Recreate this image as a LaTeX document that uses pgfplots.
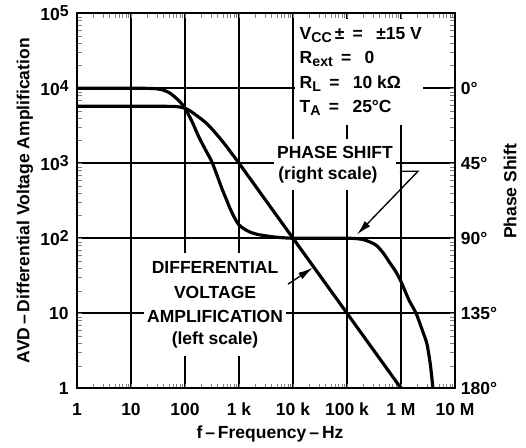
\documentclass[border=0pt]{standalone}
\usepackage{pgfplots}
\pgfplotsset{compat=1.18}
\usepackage{fontspec}
\setmainfont{Liberation Sans}
\usetikzlibrary{arrows.meta}
\newcommand{\fnt}{\fontsize{10.5}{12.5}\selectfont\bfseries}
\newcommand{\sups}[1]{\raisebox{2.6pt}{\fontsize{9.5}{9.5}\selectfont #1}}
\newcommand{\subs}[1]{\raisebox{-2pt}{\fontsize{8.5}{8.5}\selectfont #1}}
\newcommand{\eq}{\hspace{5pt}=\hspace{8pt}}
\begin{document}
\begin{tikzpicture}[font=\fnt]
\path (-46.2pt,-34.8pt) rectangle (269.4pt,232.8pt);
\begin{axis}[
  scale only axis, width=226.8pt, height=225pt,
  xmode=log, ymode=log, xmin=1, xmax=1e7, ymin=1, ymax=1e5,
  xtick={1,10,100,1000,10000,100000,1000000,10000000},
  xticklabels={1,10,100,1 k,10 k,100 k,1 M,10 M},
  ytick={1,10,100,1000,10000,100000},
  yticklabels={1,10,10\sups{2},10\sups{3},10\sups{4},10\sups{5}},
  grid=major, major grid style={black, line width=0.9pt},
  axis line style={line width=1.3pt},
  major tick length=0pt, minor tick num=0,
  tick label style={font=\fnt},
  xticklabel style={yshift=-5.5pt},
  yticklabel style={xshift=-1.5pt},
  label style={font=\fnt},
  xlabel={f\,–\,Frequency\,–\,Hz},
  xlabel style={at={([xshift=2.4pt,yshift=-27.6pt]axis description cs:0.5,0)}, anchor=center},
  ylabel={AVD\,–\,Differential Voltage Amplification},
  ylabel style={at={([xshift=-31.2pt]axis description cs:0,0.5)}, anchor=center},
]
% gain curve (left scale)
\addplot[black, line width=1.9pt, smooth, tension=0.5] coordinates {
 (1,5750) (3,5750) (10,5750) (30,5750) (60,5720) (80,5620) (100,5400)
 (124,5000) (176,4170) (252,3390) (360,2570) (550,1780) (750,1320) (1000,1000)
 (10000,100) (100000,10) (1000000,1)
};
% white background of the condition block
\fill[white] (axis cs:11000,69200) rectangle (axis cs:2550000,3210);
% condition text
\node[anchor=base west, fill=white, inner xsep=2pt, inner ysep=5pt] at (axis cs:11400,44980) {V\subs{CC}\,±\eq±15 V};
\node[anchor=base west, fill=white, inner xsep=2pt, inner ysep=5pt] at (axis cs:11400,21530) {R\subs{ext}\eq0};
\node[anchor=base west, fill=white, inner xsep=2pt, inner ysep=5pt] at (axis cs:11400,10000) {R\subs{L}\eq10 kΩ};
\node[anchor=base west, fill=white, inner xsep=2pt, inner ysep=5pt] at (axis cs:11400,4786) {T\subs{A}\eq25°C};
% phase label
\node[anchor=base, fill=white, inner xsep=2pt, inner ysep=4pt] at (axis cs:60000,1167) {PHASE SHIFT};
\node[anchor=base, fill=white, inner xsep=2pt, inner ysep=4pt] at (axis cs:44460,612) {(right scale)};
% gain label
\node[anchor=base, fill=white, inner xsep=2pt, inner ysep=5pt] at (axis cs:360,34.1) {DIFFERENTIAL};
\node[anchor=base, fill=white, inner xsep=2pt, inner ysep=5pt] at (axis cs:360,15.85) {VOLTAGE};
\node[anchor=base, fill=white, inner xsep=2pt, inner ysep=5pt] at (axis cs:360,7.59) {AMPLIFICATION};
\node[anchor=base, fill=white, inner xsep=2pt, inner ysep=5pt] at (axis cs:360,3.86) {(left scale)};
% leaders
\draw[line width=0.8pt, -{Latex[length=9pt,width=4.5pt]}] (axis cs:8070,24.4) -- (axis cs:23400,40.5);
\draw[line width=0.8pt, -{Latex[length=9pt,width=4.5pt]}] (axis cs:957000,782) -- (axis cs:2065000,782) -- (axis cs:153000,112);
\end{axis}
\begin{axis}[
  scale only axis, width=226.8pt, height=225pt,
  xmode=log, xmin=1, xmax=1e7, ymin=-45, ymax=180, y dir=reverse,
  axis x line=none, axis y line*=right,
  axis line style={line width=1.3pt},
  ytick={0,45,90,135,180},
  yticklabels={0°,45°,90°,135°,180°},
  major tick length=0pt,
  tick label style={font=\fnt},
  label style={font=\fnt},
  ylabel={Phase Shift},
  ylabel style={at={([xshift=33pt,yshift=5.7pt]axis description cs:1,0.5)}, anchor=center},
]
\addplot[black, line width=1.9pt, smooth, tension=0.5] coordinates {
 (1,0) (5,0) (15,0) (30,0.3) (40,1.2) (50,2.5) (61,4.5) (80,8) (100,12)
 (135,20) (176,28.5) (240,37) (313,44) (400,53) (480,60) (580,66.5) (680,72)
 (820,77.5) (1000,82) (1300,84.8) (1600,86.3) (2200,87.7) (3200,88.6)
 (5000,89.4) (10000,90) (30000,90) (100000,90) (160000,90.3) (220000,91.2)
 (340000,94) (460000,98.5) (600000,104) (800000,110) (1000000,116)
 (1400000,127) (1900000,135) (2500000,145.5) (3000000,153) (3400000,163)
 (3650000,171) (3900000,180)
};
\end{axis}
\end{tikzpicture}
\end{document}
